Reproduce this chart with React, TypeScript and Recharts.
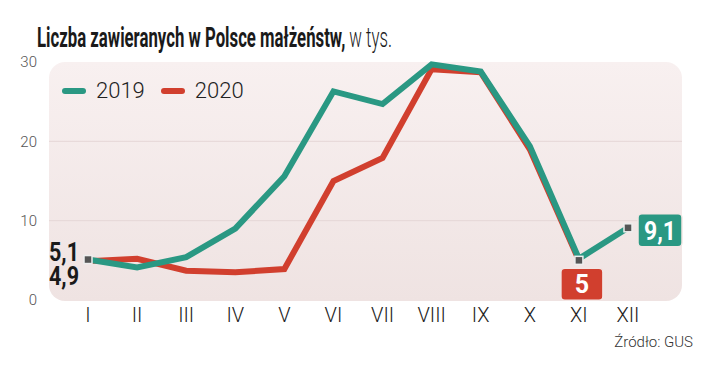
import { useLayoutEffect, useRef, useState } from "react";
import {
  LineChart,
  Line,
  XAxis,
  YAxis,
  ReferenceArea,
  ReferenceLine,
  ReferenceDot,
} from "recharts";

const months = ["I", "II", "III", "IV", "V", "VI", "VII", "VIII", "IX", "X", "XI", "XII"];
const y2019 = [5.1, 4.1, 5.4, 9.0, 15.6, 26.3, 24.7, 29.7, 28.8, 19.4, 5.2, 9.1];
const y2020 = [4.9, 5.2, 3.7, 3.5, 3.9, 15.0, 17.9, 29.1, 28.7, 19.0, 5.0, null];
const yTicks = [0, 10, 20, 30];
const gridLines = [10, 20];
const legendItems = [
  { name: "2019", color: "#2a9883" },
  { name: "2020", color: "#d13f2e" },
];

const TEAL = "#2a9883";
const RED = "#d13f2e";
const FONT = "Roboto, 'Liberation Sans', sans-serif";
const PAD_L = 39;
const PAD_R = 54;

const rows = months.map((m, i) => ({ month: m, s2019: y2019[i], s2020: y2020[i] }));

const fmt = (v: number) => String(v).replace(".", ",");

const last2019 = y2019.length - 1;
const last2020 = y2020.findLastIndex((v) => v !== null);

function Marker({ cx, cy }: { cx: number; cy: number }) {
  return <rect x={cx - 4} y={cy - 4} width={8} height={8} fill="#555" stroke="#eee" strokeWidth={1.5} />;
}

function Background(p: any) {
  return (
    <rect
      x={p.x - PAD_L}
      y={p.y}
      width={p.width + PAD_L + PAD_R}
      height={p.height + 1}
      rx={16}
      fill="url(#bgGrad)"
    />
  );
}

// squeezes its text horizontally to a target width (condensed look)
function Squeezed({ x, y, width, children, ...rest }: any) {
  const ref = useRef<SVGTextElement>(null);
  const [k, setK] = useState(1);
  useLayoutEffect(() => {
    if (ref.current) {
      const w = ref.current.getBBox().width;
      if (w > 0) setK(width / w);
    }
  }, [width]);
  return (
    <g transform={`translate(${x},${y}) scale(${k},1)`}>
      <text ref={ref} x={0} y={0} {...rest}>
        {children}
      </text>
    </g>
  );
}

export default function App() {
  return (
    <div style={{ position: "absolute", left: 0, top: 0, width: 721, height: 366, background: "#fff" }}>
      <LineChart
        width={721}
        height={366}
        data={rows}
        margin={{ top: 62, right: 39, bottom: 36, left: 0 }}
      >
        <defs>
          <linearGradient id="bgGrad" x1="0" y1="0" x2="0" y2="1">
            <stop offset="0%" stopColor="#f8f0f0" />
            <stop offset="100%" stopColor="#efe3e2" />
          </linearGradient>
        </defs>
        <ReferenceArea x1={months[0]} x2={months[last2019]} y1={0} y2={30} shape={Background} ifOverflow="visible" />
        {gridLines.map((g) => (
          <ReferenceLine key={g} y={g} stroke="#e5d7d7" strokeWidth={1} />
        ))}
        <XAxis
          dataKey="month"
          height={30}
          axisLine={false}
          tickLine={false}
          padding={{ left: PAD_L, right: PAD_R }}
          tick={{ fontSize: 20, fontWeight: 300, fill: "#222", fontFamily: FONT }}
          tickMargin={2}
          interval={0}
        />
        <YAxis
          width={49}
          domain={[0, 30]}
          ticks={yTicks}
          axisLine={false}
          tickLine={false}
          tickMargin={6}
          tick={{ fontSize: 15, fontWeight: 300, fill: "#555", fontFamily: FONT }}
        />
        <Line
          dataKey="s2020"
          stroke={RED}
          strokeWidth={6}
          dot={false}
          activeDot={false}
          isAnimationActive={false}
          strokeLinejoin="miter"
        />
        <Line
          dataKey="s2019"
          stroke={TEAL}
          strokeWidth={6}
          dot={false}
          activeDot={false}
          isAnimationActive={false}
          strokeLinejoin="miter"
        />
        <ReferenceDot
          x={months[0]}
          y={y2019[0]}
          ifOverflow="visible"
          shape={(p: any) => (
            <g>
              <Marker cx={p.cx} cy={p.cy} />
              <text fontSize={26} fontWeight={700} fontFamily={FONT} fill="#1a1a1a">
                <tspan x={p.cx - 39} y={p.cy + 1} textLength={30} lengthAdjust="spacingAndGlyphs">
                  {fmt(y2019[0])}
                </tspan>
                <tspan x={p.cx - 39} y={p.cy + 25} textLength={30} lengthAdjust="spacingAndGlyphs">
                  {fmt(y2020[0] as number)}
                </tspan>
              </text>
            </g>
          )}
        />
        <ReferenceDot
          x={months[last2020]}
          y={y2020[last2020] as number}
          ifOverflow="visible"
          shape={(p: any) => (
            <g>
              <Marker cx={p.cx} cy={p.cy} />
              <rect x={p.cx - 18} y={p.cy + 8} width={42} height={32} rx={4} fill={RED} stroke="#f3e6e4" strokeWidth={1.5} />
              <text
                x={p.cx + 3}
                y={p.cy + 33}
                textAnchor="middle"
                fontSize={25}
                fontWeight={700}
                fontFamily={FONT}
                fill="#fff"
              >
                {fmt(y2020[last2020] as number)}
              </text>
            </g>
          )}
        />
        <ReferenceDot
          x={months[last2019]}
          y={y2019[last2019]}
          ifOverflow="visible"
          shape={(p: any) => (
            <g>
              <Marker cx={p.cx} cy={p.cy} />
              <rect x={p.cx + 10} y={p.cy - 14} width={44} height={33} rx={4} fill={TEAL} stroke="#f3e6e4" strokeWidth={1.5} />
              <text
                x={p.cx + 32}
                y={p.cy + 12}
                textAnchor="middle"
                fontSize={25}
                fontWeight={700}
                fontFamily={FONT}
                fill="#fff"
                textLength={32}
                lengthAdjust="spacingAndGlyphs"
              >
                {fmt(y2019[last2019])}
              </text>
            </g>
          )}
        />
      </LineChart>
      <div style={{ position: "absolute", left: 62, top: 78, display: "flex", alignItems: "center" }}>
        {legendItems.map((it) => (
          <span key={it.name} style={{ display: "inline-flex", alignItems: "center", marginRight: 16 }}>
            <span style={{ width: 24, height: 6, borderRadius: 3, background: it.color, marginRight: 10 }} />
            <span style={{ fontSize: 22, fontWeight: 300, color: "#222", fontFamily: FONT, lineHeight: "26px" }}>
              {it.name}
            </span>
          </span>
        ))}
      </div>
      <svg
        width={721}
        height={366}
        style={{ position: "absolute", left: 0, top: 0, pointerEvents: "none" }}
      >
        <Squeezed x={37} y={47} width={355} fontSize={27} fontFamily={FONT} fill="#1a1a1a">
          <tspan fontWeight={700}>Liczba zawieranych w Polsce małżeństw,</tspan>
          <tspan fontWeight={300}> w tys.</tspan>
        </Squeezed>
        <text x={693} y={347} textAnchor="end" fontSize={15} fontWeight={300} fontFamily={FONT} fill="#333">
          Źródło: GUS
        </text>
      </svg>
    </div>
  );
}
